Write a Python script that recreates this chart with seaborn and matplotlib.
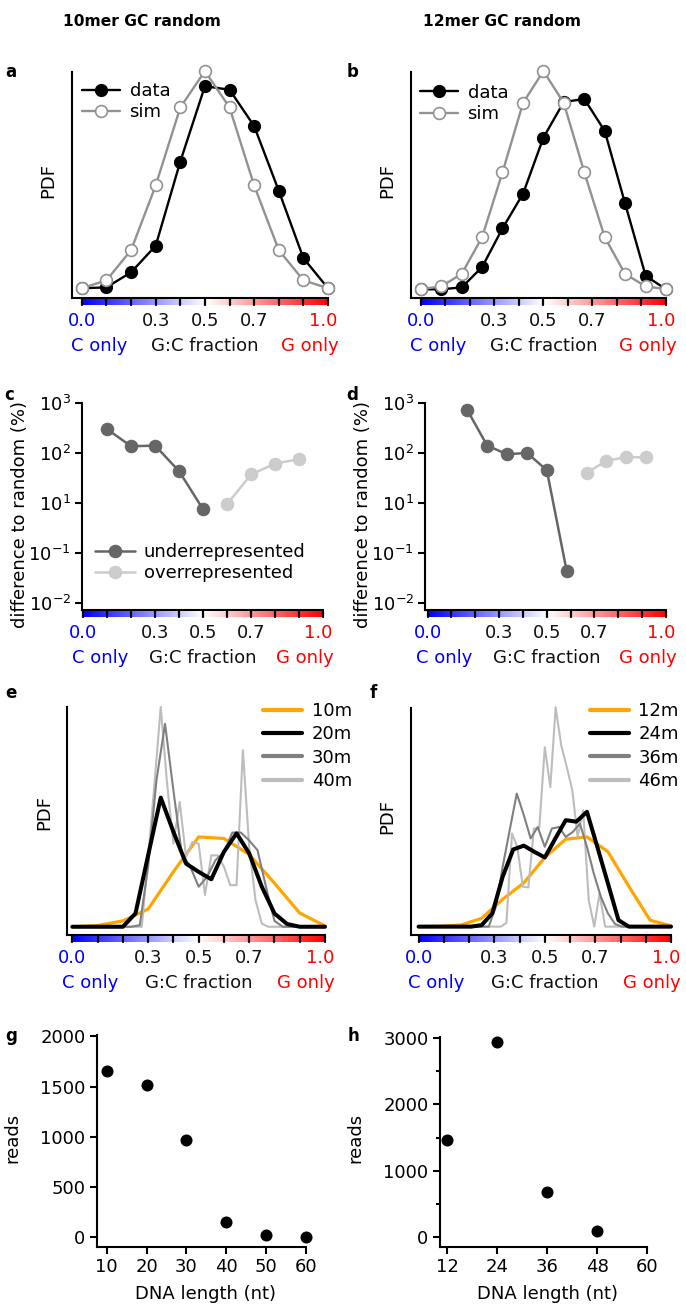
import numpy as np
import matplotlib
matplotlib.use("Agg")
import matplotlib.pyplot as plt
import seaborn as sns

# ---------------- data ----------------
# a / b : G:C fraction distributions, data vs simulated random
gc10 = [0.0, 0.1, 0.2, 0.3, 0.4, 0.5, 0.6, 0.7, 0.8, 0.9, 1.0]
data10 = [0.001, 0.002, 0.019, 0.049, 0.144, 0.229, 0.225, 0.184, 0.111, 0.035, 0.001]
sim10 = [0.001, 0.010, 0.044, 0.117, 0.205, 0.246, 0.205, 0.117, 0.044, 0.010, 0.001]

gc12 = [0.0, 0.083, 0.167, 0.25, 0.333, 0.417, 0.5, 0.583, 0.667, 0.75, 0.833, 0.917, 1.0]
data12 = [0.000, 0.000, 0.002, 0.023, 0.063, 0.099, 0.157, 0.194, 0.197, 0.164, 0.089, 0.014, 0.000]
sim12 = [0.0002, 0.003, 0.016, 0.054, 0.121, 0.193, 0.226, 0.193, 0.121, 0.054, 0.016, 0.003, 0.0002]

# c / d : difference to random (%)
gc_under10 = [0.1, 0.2, 0.3, 0.4, 0.5]
under10 = [297, 136, 140, 43, 7.4]
gc_over10 = [0.6, 0.7, 0.8, 0.9]
over10 = [9.4, 37, 61, 75]

gc_under12 = [0.167, 0.25, 0.333, 0.417, 0.5, 0.583]
under12 = [713, 140, 94, 100, 45, 0.44]
gc_over12 = [0.667, 0.75, 0.833, 0.917]
over12 = [40, 69, 83, 81]

log_ticks = [1000, 100, 10, 1, 0.1]
log_ticklabels = ['$10^{3}$', '$10^{2}$', '$10^{1}$', '$10^{-1}$', '$10^{-2}$']

# e : PDFs for 10mer multimers
gc20 = [0.0, 0.05, 0.1, 0.15, 0.2, 0.25, 0.3, 0.35, 0.4, 0.45, 0.5,
        0.55, 0.6, 0.65, 0.7, 0.75, 0.8, 0.85, 0.9, 0.95, 1.0]
gc30 = [0.0, 0.033, 0.067, 0.1, 0.133, 0.167, 0.2, 0.233, 0.267, 0.3, 0.333,
        0.367, 0.4, 0.433, 0.467, 0.5, 0.533, 0.567, 0.6, 0.633, 0.667,
        0.7, 0.733, 0.767, 0.8, 0.833, 0.867, 0.9, 0.933, 0.967, 1.0]
gc40 = [0.0, 0.025, 0.05, 0.075, 0.1, 0.125, 0.15, 0.175, 0.2, 0.225, 0.25,
        0.275, 0.3, 0.325, 0.35, 0.375, 0.4, 0.425, 0.45, 0.475, 0.5,
        0.525, 0.55, 0.575, 0.6, 0.625, 0.65, 0.675, 0.7, 0.725, 0.75,
        0.775, 0.8, 0.825, 0.85, 0.875, 0.9, 0.925, 0.95, 0.975, 1.0]
pdf10m = [0.0, 0.03, 0.15, 0.45, 1.40, 2.29, 2.25, 1.84, 1.11, 0.35, 0.02]
pdf20m = [0, 0, 0, 0, 0, 0.34, 1.82, 3.29, 2.42, 1.61, 1.40,
          1.21, 1.91, 2.38, 1.87, 1.02, 0.34, 0.07, 0, 0, 0]
pdf30m = [0, 0, 0, 0, 0, 0, 0, 0, 0.04, 1.53, 3.73,
          5.17, 3.48, 1.87, 1.53, 1.02, 1.27, 1.70, 1.90, 2.40, 2.40,
          2.20, 1.95, 1.00, 0.15, 0, 0, 0, 0, 0, 0]
pdf40m = [0, 0, 0, 0, 0, 0, 0, 0, 0, 0, 0,
          0, 1.76, 3.63, 5.60, 3.65, 2.12, 3.18, 1.78, 2.16, 2.12,
          0.81, 1.82, 1.82, 1.53, 1.06, 1.06, 4.50, 2.04, 0.68, 0.08,
          0, 0, 0, 0, 0, 0, 0, 0, 0, 0]

# f : PDFs for 12mer multimers
gc24 = [0.0, 0.042, 0.083, 0.125, 0.167, 0.208, 0.25, 0.292, 0.333, 0.375,
        0.417, 0.458, 0.5, 0.542, 0.583, 0.625, 0.667, 0.708, 0.75, 0.792,
        0.833, 0.875, 0.917, 0.958, 1.0]
gc36 = [0.0, 0.028, 0.056, 0.083, 0.111, 0.139, 0.167, 0.194, 0.222, 0.25,
        0.278, 0.306, 0.333, 0.361, 0.389, 0.417, 0.444, 0.472, 0.5, 0.528,
        0.556, 0.583, 0.611, 0.639, 0.667, 0.694, 0.722, 0.75, 0.778, 0.806,
        0.833, 0.861, 0.889, 0.917, 0.944, 0.972, 1.0]
gc46 = [0.0, 0.022, 0.043, 0.065, 0.087, 0.109, 0.13, 0.152, 0.174, 0.196,
        0.217, 0.239, 0.261, 0.283, 0.304, 0.326, 0.348, 0.37, 0.391, 0.413,
        0.435, 0.457, 0.478, 0.5, 0.522, 0.543, 0.565, 0.587, 0.609, 0.63,
        0.652, 0.674, 0.696, 0.717, 0.739, 0.761, 0.783, 0.804, 0.826, 0.848,
        0.87, 0.891, 0.913, 0.935, 0.957, 0.978, 1.0]
pdf12m = [0, 0.01, 0.04, 0.22, 0.72, 1.15, 1.82, 2.30, 2.36, 1.97, 1.06, 0.17, 0.02]
pdf24m = [0, 0, 0, 0, 0, 0, 0.04, 0.35, 1.31, 2.03, 2.13, 1.97, 1.82,
          2.32, 2.80, 2.76, 3.02, 2.10, 1.14, 0.17, 0, 0, 0, 0, 0]
pdf36m = [0, 0, 0, 0, 0, 0, 0, 0, 0, 0, 0, 0.52, 1.57, 2.54, 3.50, 2.93,
          2.32, 2.62, 2.10, 2.58, 2.62, 2.36, 2.49, 2.71, 2.10, 1.40, 0.79,
          0.35, 0.07, 0, 0, 0, 0, 0, 0, 0, 0]
pdf46m = [0, 0, 0, 0, 0, 0, 0, 0, 0, 0, 0, 0, 0, 0, 0, 0, 0.10, 2.45,
          2.10, 1.05, 1.03, 2.58, 2.58, 4.72, 3.67, 5.77, 4.77, 4.20, 3.59,
          2.36, 3.06, 0.70, 0.0, 0.87, 0, 0, 0, 0, 0, 0, 0, 0, 0, 0, 0, 0, 0]

# g / h : reads per DNA length
len10 = [10, 20, 30, 40, 50, 60]
reads10 = [1650, 1513, 967, 147, 23, 0]
len12 = [12, 24, 36, 48]
reads12 = [1470, 2940, 680, 90]

# ---------------- style ----------------
sns.set_style("ticks")
plt.rcParams['font.family'] = ['DejaVu Sans']
plt.rcParams['font.size'] = 13
plt.rcParams['mathtext.fontset'] = 'dejavusans'
for key in ('text.color', 'axes.labelcolor', 'xtick.color', 'ytick.color'):
    plt.rcParams[key] = 'black'

W, H = 686, 1306
fig = plt.figure(figsize=(W / 100, H / 100), dpi=100)


def axes_px(l, t, r, b):
    ax = fig.add_axes([l / W, 1 - b / H, (r - l) / W, (b - t) / H])
    ax._px = (l, t, r, b)
    return ax


def style(ax):
    sns.despine(ax=ax)
    for s in ('left', 'bottom'):
        ax.spines[s].set_linewidth(1.5)
        ax.spines[s].set_color('black')
    ax.tick_params(width=1.5, length=5, color='black', labelcolor='black',
                   labelsize=13, pad=3)


def ylabel_px(ax, text, right_px, center_px):
    l, t, r, b = ax._px
    ax.set_ylabel(text, fontsize=13, color='black')
    ax.yaxis.set_label_coords((right_px - l) / (r - l), (b - center_px) / (b - t))


def gc_bar(ax):
    l, t, r, b = ax._px
    x0, x1 = ax.get_xlim()
    p0 = l + (0 - x0) / (x1 - x0) * (r - l)
    p1 = l + (1 - x0) / (x1 - x0) * (r - l)
    cax = fig.add_axes([p0 / W, 1 - (b + 7) / H, (p1 - p0) / W, 6 / H])
    cax.imshow(np.linspace(0, 1, 256)[None, :], cmap='bwr', aspect='auto',
               extent=(0, 1, 0, 1))
    for v in gc10:
        cax.axvline(v, color='black', lw=1.6, clip_on=False)
    cax.set_xlim(0, 1)
    cax.set_ylim(0, 1)
    cax.axis('off')

    def fx(v):
        return (p0 + v * (p1 - p0)) / W

    yt = 1 - (b + 28) / H
    yb = 1 - (b + 53) / H
    fig.text(fx(0.0), yt, '0.0', color='#0000ff', ha='center', va='baseline', fontsize=13)
    for v, s in [(0.3, '0.3'), (0.5, '0.5'), (0.7, '0.7')]:
        fig.text(fx(v), yt, s, color='#111111', ha='center', va='baseline', fontsize=13)
    fig.text(fx(0.98), yt, '1.0', color='#ff0000', ha='center', va='baseline', fontsize=13)
    fig.text(fx(0.07), yb, 'C only', color='#0000ff', ha='center', va='baseline', fontsize=13)
    fig.text(fx(0.5), yb, 'G:C fraction', color='#111111', ha='center', va='baseline', fontsize=13)
    fig.text(fx(0.925), yb, 'G only', color='#ff0000', ha='center', va='baseline', fontsize=13)


def legend_px(ax, left_px, center_px, handlelength=2.15, textpad=0.55, spacing=0.22):
    h, lab = ax.get_legend_handles_labels()
    return ax.legend(h, lab, loc='center left',
                     bbox_to_anchor=(left_px / W, 1 - center_px / H),
                     bbox_transform=fig.transFigure, frameon=False, borderpad=0,
                     borderaxespad=0, handlelength=handlelength,
                     handletextpad=textpad, labelspacing=spacing, fontsize=13,
                     labelcolor='black')


grey_sim = '#929292'

# ---------------- a / b ----------------
for (l, r, gx, dat, sim, ylim, leg_left, leg_c) in [
        (72, 328, gc10, data10, sim10, (-0.010, 0.245), 81.7, 101.7),
        (411, 666, gc12, data12, sim12, (-0.009, 0.225), 419.7, 103.3)]:
    ax = axes_px(l, 72, r, 298)
    style(ax)
    sns.lineplot(x=gx, y=dat, ax=ax, color='black', lw=1.7, marker='o',
                 markersize=8.5, markeredgecolor='black', markeredgewidth=1,
                 label='data', clip_on=False)
    sns.lineplot(x=gx, y=sim, ax=ax, color=grey_sim, lw=1.7, marker='o',
                 markersize=8.5, markerfacecolor='white', markeredgecolor=grey_sim,
                 markeredgewidth=1.2, label='sim', clip_on=False)
    ax.set_xlim(-0.04, 1.0)
    ax.set_ylim(*ylim)
    ax.set_xticks([])
    ax.set_yticks([])
    ylabel_px(ax, 'PDF', l - 15, 180)
    legend_px(ax, leg_left, leg_c, handlelength=2.1, spacing=0.18)
    gc_bar(ax)

# ---------------- c / d ----------------
for (l, r, xlo, gu, vu, go, vo, show_leg) in [
        (82, 323, -0.005, gc_under10, under10, gc_over10, over10, True),
        (425, 666, -0.011, gc_under12, under12, gc_over12, over12, False)]:
    ax = axes_px(l, 403, r, 610)
    style(ax)
    sns.lineplot(x=gu, y=vu, ax=ax, color='#666666', lw=1.8, marker='o',
                 markersize=9, markeredgecolor='#666666', label='underrepresented',
                 clip_on=False)
    sns.lineplot(x=go, y=vo, ax=ax, color='#cccccc', lw=1.8, marker='o',
                 markersize=9, markeredgecolor='#cccccc', label='overrepresented',
                 clip_on=False)
    ax.set_yscale('log')
    ax.set_ylim(0.0713, 1000)
    ax.set_yticks(log_ticks)
    ax.set_yticklabels(log_ticklabels)
    ax.yaxis.set_minor_locator(matplotlib.ticker.NullLocator())
    ax.set_xlim(xlo, 1.0)
    ax.set_xticks([])
    ylabel_px(ax, 'difference to random (%)', l - 53, 514)
    if show_leg:
        legend_px(ax, 95, 562.7, handlelength=2.2, textpad=0.5, spacing=0.18)
    else:
        ax.get_legend().remove()
    gc_bar(ax)

# ---------------- e / f ----------------
panels_ef = [
    (67, 325, 707, -0.021, (-0.21, 5.6), 263, 53.3, 813,
     [(gc10, pdf10m, '10m'), (gc20, pdf20m, '20m'), (gc30, pdf30m, '30m'), (gc40, pdf40m, '40m')]),
    (411, 671, 708, -0.03, (-0.22, 5.75), 589.7, 396.3, 817,
     [(gc12, pdf12m, '12m'), (gc24, pdf24m, '24m'), (gc36, pdf36m, '36m'), (gc46, pdf46m, '46m')]),
]
line_styles = [('#ffa500', 2.3, 2), ('black', 2.9, 5), ('#808080', 1.5, 4), ('#bdbdbd', 1.5, 3)]
for (l, r, t, xlo, ylim, leg_left, lab_r, lab_c, series) in panels_ef:
    ax = axes_px(l, t, r, 935)
    style(ax)
    for (gx, vals, name), (col, lw, z) in zip(series, line_styles):
        sns.lineplot(x=gx, y=vals, ax=ax, color=col, lw=lw, zorder=z, label=name,
                     clip_on=False)
    ax.set_xlim(xlo, 1.0)
    ax.set_ylim(*ylim)
    ax.set_xticks([])
    ax.set_yticks([])
    ylabel_px(ax, 'PDF', lab_r, lab_c)
    leg = legend_px(ax, leg_left, 746, handlelength=2.15, textpad=0.55, spacing=0.3)
    for hnd in leg.legend_handles:
        hnd.set_linewidth(3)
    gc_bar(ax)

# ---------------- g / h ----------------
for (l, r, t, xs, ys, xlim, ylim, xt, yt, minor) in [
        (96.7, 306, 1035.3, len10, reads10, (7.5, 60), (-100, 2010),
         [10, 20, 30, 40, 50, 60], [0, 500, 1000, 1500, 2000], None),
        (439.7, 647, 1036.7, len12, reads12, (10.24, 60), (-150, 3015),
         [12, 24, 36, 48, 60], [0, 1000, 2000, 3000], [500, 1500, 2500])]:
    ax = axes_px(l, t, r, 1247.3)
    style(ax)
    sns.scatterplot(x=xs, y=ys, ax=ax, color='black', s=75, linewidth=0,
                    clip_on=False, zorder=3)
    ax.set_xlim(*xlim)
    ax.set_ylim(*ylim)
    ax.set_xticks(xt)
    ax.set_yticks(yt)
    if minor:
        ax.set_yticks(minor, minor=True)
        ax.tick_params(axis='y', which='minor', length=3, width=1.5)
    ylabel_px(ax, 'reads', l - 75, 1138)
    ax.set_xlabel('DNA length (nt)', fontsize=13)
    ax.xaxis.set_label_coords(0.52, (1247.3 - 1285) / (1247.3 - t))

# ---------------- titles and panel letters ----------------
fig.text(142 / W, 1 - 22 / H, '10mer GC random', ha='center', va='center',
         fontsize=11.2, weight='bold')
fig.text(502 / W, 1 - 22 / H, '12mer GC random', ha='center', va='center',
         fontsize=11.2, weight='bold')
for letter, x, y in [('a', 11, 72), ('b', 353, 72), ('c', 9, 395), ('d', 352, 395),
                     ('e', 11, 693), ('f', 373, 693), ('g', 11, 1036), ('h', 353, 1036)]:
    fig.text(x / W, 1 - y / H, letter, ha='center', va='center', fontsize=12,
             weight='bold')

fig.savefig('out.png', dpi=100)
